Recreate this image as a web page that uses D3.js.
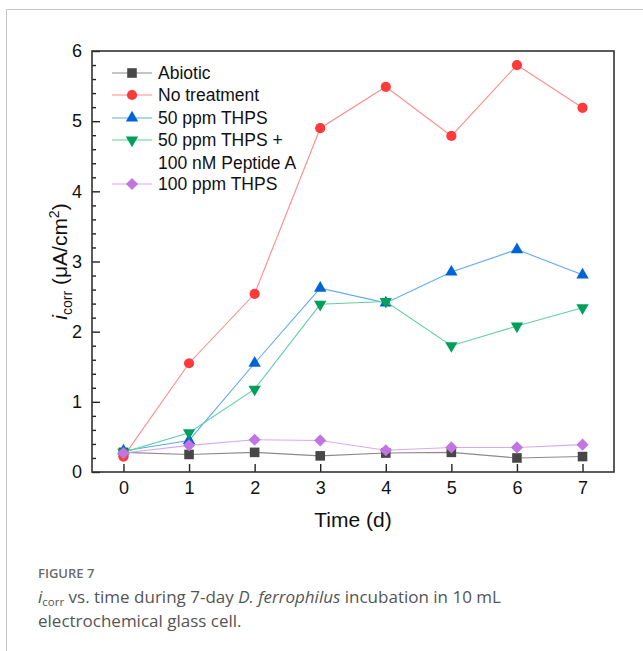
<!DOCTYPE html>
<html>
<head>
<meta charset="utf-8">
<script src="https://cdn.jsdelivr.net/npm/d3@7"></script>
<style>
  body { margin: 0; background: #fff; }
  svg { display: block; }
</style>
</head>
<body>
<svg id="chart" width="643" height="651"></svg>
<script>
// days on the x axis
const days = [0, 1, 2, 3, 4, 5, 6, 7];

// i_corr values (µA/cm²)
const abiotic = [0.28, 0.25, 0.28, 0.23, 0.27, 0.28, 0.20, 0.22];
const noTreatment = [0.22, 1.55, 2.54, 4.90, 5.49, 4.79, 5.80, 5.19];
const thps50 = [0.30, 0.45, 1.55, 2.62, 2.41, 2.85, 3.17, 2.81];
const thps50Peptide = [0.28, 0.56, 1.18, 2.39, 2.43, 1.80, 2.08, 2.34];
const thps100 = [0.27, 0.38, 0.46, 0.45, 0.31, 0.35, 0.35, 0.39];

const seriesNames = ['Abiotic', 'No treatment', '50 ppm THPS', '50 ppm THPS +|100 nM Peptide A', '100 ppm THPS'];
const yTicks = [0, 1, 2, 3, 4, 5, 6];

const series = [
    { name: seriesNames[0], values: abiotic, marker: '#474747', line: '#8a8a8a', shape: 'square' },
    { name: seriesNames[1], values: noTreatment, marker: '#ff3a3a', line: '#ff8c8c', shape: 'circle' },
    { name: seriesNames[2], values: thps50, marker: '#0064d8', line: '#5eaaf2', shape: 'up' },
    { name: seriesNames[3], values: thps50Peptide, marker: '#00a05c', line: '#62d0a2', shape: 'down' },
    { name: seriesNames[4], values: thps100, marker: '#c274e2', line: '#d9a8f0', shape: 'diamond' }
];

const svg = d3.select('#chart');
const font = '"Liberation Sans", Arial, sans-serif';

// outer page frame
svg.append('path')
    .attr('d', 'M6.5,651 V9.5 H643')
    .attr('fill', 'none')
    .attr('stroke', '#c8c8c8')
    .attr('stroke-width', 1);

const plot = { left: 92, top: 51, right: 614, bottom: 472 };

const x = d3.scaleLinear().domain([-0.48, 7.48]).range([plot.left, plot.right]);
const y = d3.scaleLinear().domain([0, 6]).range([plot.bottom, plot.top]);

// marker shapes
function markerPath(shape) {
    if (shape === 'square') return d3.symbol(d3.symbolSquare, 92)();
    if (shape === 'circle') return d3.symbol(d3.symbolCircle, 82)();
    if (shape === 'up' || shape === 'down') return d3.symbol(d3.symbolTriangle, 66)();
    return d3.symbol(d3.symbolSquare, 74)();
}
function markerRotate(shape) {
    if (shape === 'down') return 180;
    if (shape === 'diamond') return 45;
    return 0;
}

// y axis, minor ticks
const minorTicks = d3.range(0, 6.001, 0.2).filter(v => Math.abs(v - Math.round(v)) > 0.01);
svg.append('g')
    .attr('transform', `translate(${plot.left},0)`)
    .call(d3.axisLeft(y).tickValues(minorTicks).tickSize(-4).tickFormat(''))
    .call(g => g.select('.domain').remove())
    .call(g => g.selectAll('line').attr('stroke', '#222').attr('stroke-width', 1.4));

// y axis, major ticks
svg.append('g')
    .attr('transform', `translate(${plot.left},0)`)
    .call(d3.axisLeft(y).tickValues(yTicks).tickSize(-8).tickPadding(10).tickFormat(d3.format('d')))
    .call(g => g.select('.domain').remove())
    .call(g => g.selectAll('line').attr('stroke', '#222').attr('stroke-width', 1.4))
    .call(g => g.selectAll('text').attr('font-family', font).attr('font-size', 18).attr('fill', '#111'));

// x axis
svg.append('g')
    .attr('transform', `translate(0,${plot.bottom})`)
    .call(d3.axisBottom(x).tickValues(days).tickSize(-8).tickPadding(9).tickFormat(d3.format('d')))
    .call(g => g.select('.domain').remove())
    .call(g => g.selectAll('line').attr('stroke', '#222').attr('stroke-width', 1.4))
    .call(g => g.selectAll('text').attr('font-family', font).attr('font-size', 18).attr('fill', '#111'));

// plot frame
svg.append('rect')
    .attr('x', plot.left)
    .attr('y', plot.top)
    .attr('width', plot.right - plot.left)
    .attr('height', plot.bottom - plot.top)
    .attr('fill', 'none')
    .attr('stroke', '#333')
    .attr('stroke-width', 1.6);

// axis titles
svg.append('text')
    .attr('x', (plot.left + plot.right) / 2)
    .attr('y', 527)
    .attr('text-anchor', 'middle')
    .attr('font-family', font)
    .attr('font-size', 21)
    .attr('fill', '#111')
    .text('Time (d)');

const yTitle = svg.append('text')
    .attr('transform', `translate(67,${(plot.top + plot.bottom) / 2}) rotate(-90)`)
    .attr('text-anchor', 'middle')
    .attr('font-family', font)
    .attr('font-size', 21)
    .attr('fill', '#111');
yTitle.append('tspan').attr('font-style', 'italic').text('i');
yTitle.append('tspan').attr('font-size', 14).attr('dy', 5).text('corr');
yTitle.append('tspan').attr('dy', -5).text(' (μA/cm');
yTitle.append('tspan').attr('font-size', 14).attr('dy', -8).text('2');
yTitle.append('tspan').attr('dy', 8).text(')');

// series lines and markers
const line = d3.line().x((d, i) => x(days[i])).y(d => y(d));
series.forEach(s => {
    const g = svg.append('g');
    g.append('path')
        .attr('d', line(s.values))
        .attr('fill', 'none')
        .attr('stroke', s.line)
        .attr('stroke-width', 1.1);
    g.selectAll('path.mk')
        .data(s.values)
        .enter()
        .append('path')
        .attr('class', 'mk')
        .attr('d', markerPath(s.shape))
        .attr('transform', (d, i) => `translate(${x(days[i])},${y(d)}) rotate(${markerRotate(s.shape)})`)
        .attr('fill', s.marker);
});

// legend
const legendRows = [73, 95, 118, 140, 184];
series.forEach((s, i) => {
    const ly = legendRows[i];
    const g = svg.append('g');
    g.append('line')
        .attr('x1', 112).attr('x2', 152)
        .attr('y1', ly).attr('y2', ly)
        .attr('stroke', s.line)
        .attr('stroke-width', 1.1);
    g.append('path')
        .attr('d', markerPath(s.shape))
        .attr('transform', `translate(132,${ly}) rotate(${markerRotate(s.shape)})`)
        .attr('fill', s.marker);
    s.name.split('|').forEach((part, j) => {
        g.append('text')
            .attr('x', 158)
            .attr('y', ly + 6 + j * 22.5)
            .attr('font-family', font)
            .attr('font-size', 17.5)
            .attr('fill', '#111')
            .text(part);
    });
});

// caption
const capFont = '"Open Sans", "Noto Sans", sans-serif';
svg.append('text')
    .attr('x', 38).attr('y', 578)
    .attr('font-family', capFont)
    .attr('font-size', 13)
    .attr('font-weight', 600)
    .attr('fill', '#6b6b6b')
    .text('FIGURE 7');

const cap1 = svg.append('text')
    .attr('x', 38).attr('y', 603)
    .attr('font-family', capFont)
    .attr('font-size', 17)
    .attr('fill', '#555');
cap1.append('tspan').attr('font-style', 'italic').text('i');
cap1.append('tspan').attr('font-size', 11.5).attr('dy', 3).text('corr');
cap1.append('tspan').attr('dy', -3).text(' vs. time during 7-day ');
cap1.append('tspan').attr('font-style', 'italic').text('D. ferrophilus');
cap1.append('tspan').text(' incubation in 10 mL');

svg.append('text')
    .attr('x', 38).attr('y', 627)
    .attr('font-family', capFont)
    .attr('font-size', 17)
    .attr('fill', '#555')
    .text('electrochemical glass cell.');
</script>
</body>
</html>
